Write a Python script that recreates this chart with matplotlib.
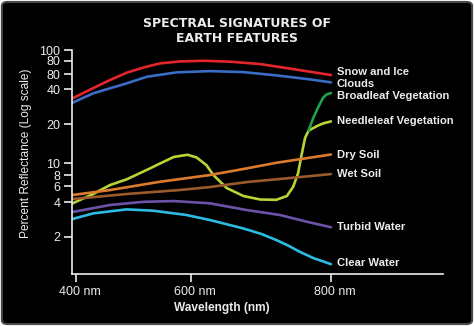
import numpy as np
import matplotlib
matplotlib.use("Agg")
import matplotlib.pyplot as plt
from matplotlib.patches import FancyBboxPatch
from matplotlib.transforms import ScaledTranslation

# reflectance curves, wavelength in nm / percent reflectance
snow_nm = [394, 430, 459, 488, 517, 546, 581, 618, 656, 699, 746, 800]
snow = [33.5, 41.4, 51.4, 62.1, 69.3, 75.7, 78.9, 80.0, 78.5, 74.6, 67.1, 58.9]

clouds_nm = [394, 430, 488, 523, 575, 627, 674, 722, 770, 800]
clouds = [30.7, 37.0, 47.0, 56.2, 62.6, 64.3, 63.0, 58.4, 52.4, 48.3]

needle_nm = [394, 430, 459, 488, 529, 546, 570, 594, 608, 622, 632, 651,
             675, 699, 722, 737, 746, 753, 758, 763, 768, 780, 789, 800]
needle = [3.92, 4.92, 6.15, 7.14, 9.09, 9.96, 11.2, 11.65, 11.1, 9.68, 8.0, 5.71,
          4.68, 4.29, 4.26, 4.68, 5.89, 8.26, 11.6, 15.7, 17.9, 19.4, 20.4, 21.2]

broad_nm = [768, 775, 782, 789, 794, 800]
broad = [17.9, 22.9, 28.3, 34.1, 36.2, 37.2]

dry_nm = [394, 459, 546, 627, 680, 722, 800]
dry = [4.80, 5.43, 6.71, 8.0, 9.09, 10.1, 11.7]

wet_nm = [394, 488, 580, 627, 680, 741, 800]
wet = [4.34, 4.92, 5.43, 5.85, 6.66, 7.39, 8.15]

turbid_nm = [394, 459, 517, 570, 627, 680, 727, 765, 800]
turbid = [3.29, 3.79, 4.05, 4.13, 3.92, 3.42, 3.10, 2.71, 2.42]

clear_nm = [394, 430, 488, 534, 592, 627, 674, 700, 722, 740, 755, 775, 800]
clear = [2.86, 3.20, 3.47, 3.38, 3.10, 2.80, 2.37, 2.12, 1.87, 1.66, 1.48, 1.30, 1.15]

y_ticks = [2, 4, 6, 8, 10, 20, 40, 60, 80, 100]
y_tick_labels = ["2", "4", "6", "8", "10", "20", "40", "80", "80", "100"]
x_ticks = [400, 600, 800]
x_tick_labels = ["400 nm", "600 nm", "800 nm"]

# hand-drawn axis: tick spacing is not quite uniform, so map through the tick positions
X_KNOTS = [393.6, 400, 600, 800, 960]
X_POS = [0, 3.7, 118.7, 258.7, 370.7]
Y_LOGS = [-0.0228, np.log10(2), np.log10(4), np.log10(6), np.log10(8), 1.0,
          np.log10(20), np.log10(40), np.log10(60), np.log10(80), 2.0]
Y_POS = [0, 37, 71.4, 87.7, 98.7, 110.4, 149.4, 184.4, 199.4, 213, 223.7]


def x_fwd(v):
    return np.interp(v, X_KNOTS, X_POS)


def x_inv(p):
    return np.interp(p, X_POS, X_KNOTS)


def y_fwd(v):
    v = np.clip(np.asarray(v, dtype=float), 1e-3, None)
    return np.interp(np.log10(v), Y_LOGS, Y_POS)


def y_inv(p):
    return 10 ** np.interp(p, Y_POS, Y_LOGS)


narrow = ["Liberation Sans Narrow", "Liberation Sans", "DejaVu Sans"]
fg = "#ececec"

fig = plt.figure(figsize=(4.74, 3.26), dpi=100)
fig.patch.set_facecolor("white")
fig.patches.append(FancyBboxPatch((0.004, 0.006), 0.992, 0.988,
                                  boxstyle="round,pad=0,rounding_size=0.012",
                                  transform=fig.transFigure, facecolor="black",
                                  edgecolor="#4a4a4a", linewidth=1.5, zorder=-10))

ax = fig.add_axes([0.1525, 0.1604, 0.782, 0.686])
ax.set_facecolor("none")
ax.set_xscale("function", functions=(x_fwd, x_inv))
ax.set_yscale("function", functions=(y_fwd, y_inv))
ax.set_xlim(393.6, 960)
ax.set_ylim(10 ** -0.0228, 100)

series = [
    (needle_nm, needle, "#b8d436", "Needleleaf Vegetation", 0),
    (broad_nm, broad, "#21a04a", "Broadleaf Vegetation", -2),
    (snow_nm, snow, "#e4262c", "Snow and Ice", 2.5),
    (clouds_nm, clouds, "#3b6cc6", "Clouds", -1.5),
    (dry_nm, dry, "#dc7b2c", "Dry Soil", 0),
    (wet_nm, wet, "#9a5a2c", "Wet Soil", 0),
    (turbid_nm, turbid, "#6b53aa", "Turbid Water", 0),
    (clear_nm, clear, "#2cbbe2", "Clear Water", 0.5),
]

for xs, ys, color, name, dy in series:
    ax.plot(xs, ys, color=color, lw=1.9, solid_capstyle="round", solid_joinstyle="round")
    ax.annotate(name, (xs[-1], ys[-1]), xytext=(4, dy), textcoords="offset points",
                va="center", ha="left", color=fg, fontsize=8.1,
                family=narrow, weight="bold", annotation_clip=False)

for side in ["top", "right"]:
    ax.spines[side].set_visible(False)
for side in ["left", "bottom"]:
    ax.spines[side].set_color(fg)
    ax.spines[side].set_linewidth(1.2)

ax.set_yticks(y_ticks)
ax.set_yticklabels(y_tick_labels)
ax.set_xticks(x_ticks)
ax.set_xticklabels(x_tick_labels)
ax.minorticks_off()
ax.tick_params(colors=fg, width=1.2, length=5.5, labelsize=9, pad=3)
for lab in ax.get_yticklabels() + ax.get_xticklabels():
    lab.set_family(narrow)
for lab in ax.get_xticklabels():
    lab.set_transform(lab.get_transform() + ScaledTranslation(0.04, 0, fig.dpi_scale_trans))

ax.set_ylabel("Percent Reflectance (Log scale)", color=fg, fontsize=8.6, family=narrow)
ax.yaxis.set_label_coords(-0.11, 0.54)
ax.set_xlabel("Wavelength (nm)", color=fg, fontsize=8.6, family=narrow, weight="bold")
ax.xaxis.set_label_coords(0.404, -0.127)

fig.text(0.5, 0.905, "SPECTRAL SIGNATURES OF\nEARTH FEATURES", ha="center", va="center",
         color=fg, fontsize=9, weight="bold", linespacing=1.2)

plt.savefig("out.png", dpi=100, facecolor=fig.get_facecolor())
